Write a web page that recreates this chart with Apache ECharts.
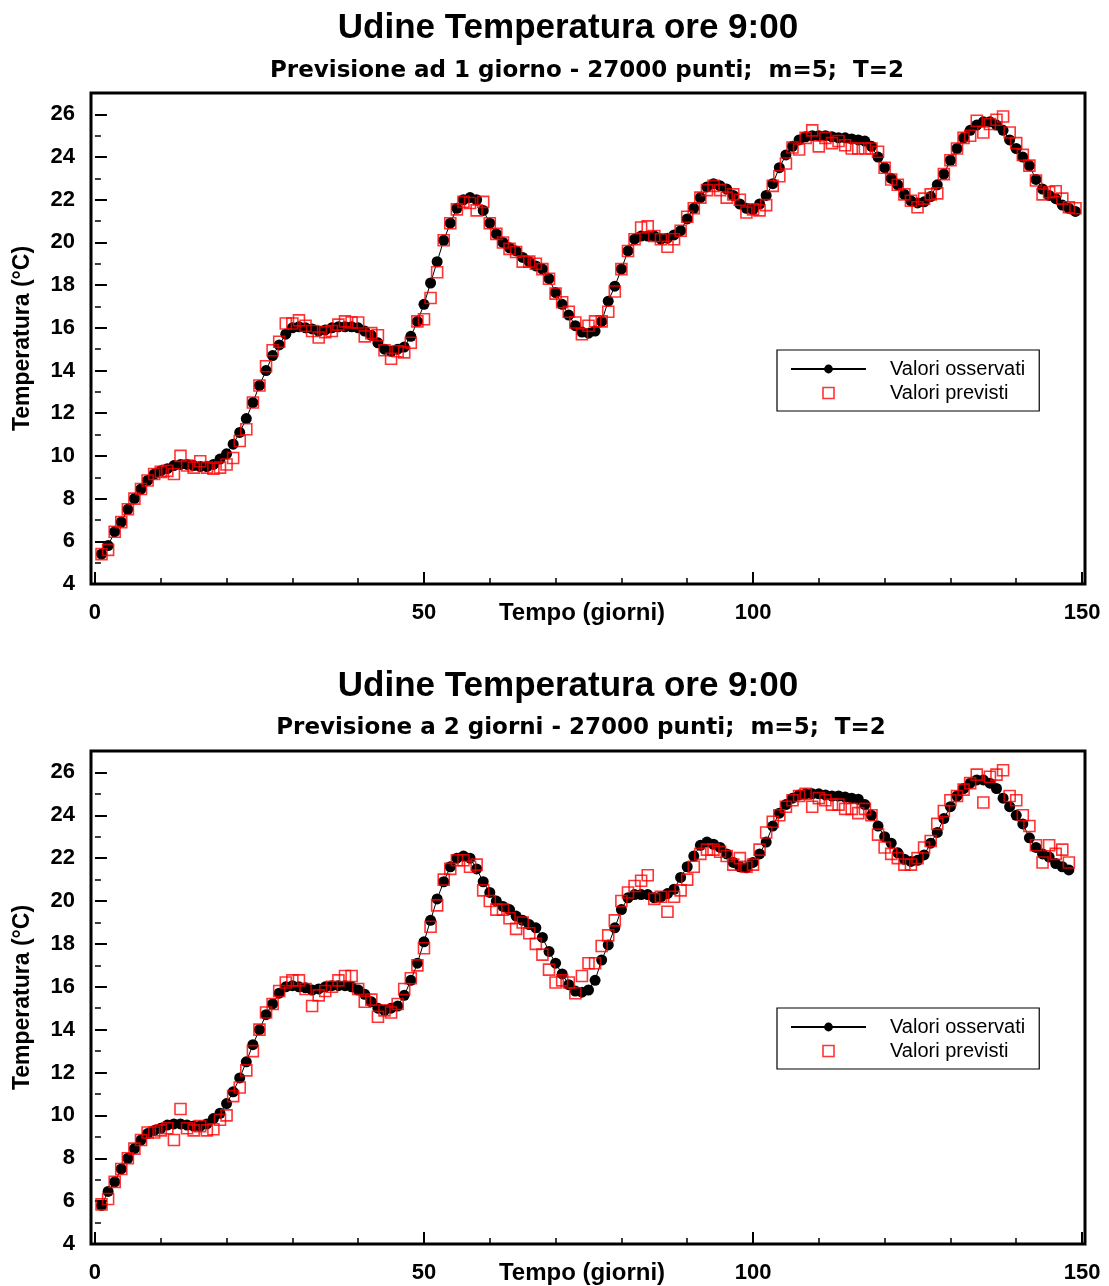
<!DOCTYPE html>
<html><head><meta charset="utf-8">
<script src="https://cdn.jsdelivr.net/npm/echarts@6/dist/echarts.min.js"></script>
<style>html,body{margin:0;padding:0;background:#fff}#c{width:1109px;height:1286px}</style>
</head><body><div id="c"></div>
<script>
const titleText = 'Udine Temperatura ore 9:00';
const subtitle1 = 'Previsione ad 1 giorno - 27000 punti;  m=5;  T=2';
const subtitle2 = 'Previsione a 2 giorni - 27000 punti;  m=5;  T=2';
const xName = 'Tempo (giorni)';
const yName = 'Temperatura (°C)';
const nameObs = 'Valori osservati';
const namePred = 'Valori previsti';
const xTickLabels = [0, 50, 100, 150];
const xMinorTicks = [10, 20, 30, 40, 60, 70, 80, 90, 110, 120, 130, 140];
const yTickLabels = [4, 6, 8, 10, 12, 14, 16, 18, 20, 22, 24, 26];
const yMinorTicks = [5, 7, 9, 11, 13, 15, 17, 19, 21, 23, 25];

// Chart 1: forecast 1 day ahead (days 1..149)
const obs1 = [
 5.4,5.8,6.45,6.9,7.5,8.0,8.45,8.85,9.15,9.3,
 9.4,9.55,9.6,9.6,9.55,9.5,9.5,9.6,9.85,10.1,
 10.55,11.1,11.75,12.5,13.3,14.0,14.7,15.2,15.7,16.0,
 16.05,16.0,15.95,15.85,15.9,16.0,16.05,16.05,16.05,16.0,
 15.85,15.65,15.3,15.0,14.9,15.0,15.1,15.6,16.3,17.1,
 18.1,19.1,20.1,20.9,21.6,22.0,22.1,22.0,21.5,20.9,
 20.4,20.0,19.75,19.6,19.3,19.1,18.9,18.75,18.3,17.65,
 17.1,16.6,16.1,15.8,15.75,15.85,16.3,17.25,17.95,18.75,
 19.6,20.15,20.3,20.3,20.3,20.15,20.2,20.35,20.55,21.1,
 21.6,22.1,22.6,22.75,22.65,22.5,22.2,21.8,21.6,21.55,
 21.8,22.2,22.75,23.5,24.1,24.5,24.8,24.95,25.0,25.0,
 25.0,24.95,24.9,24.9,24.85,24.8,24.75,24.5,24.0,23.5,
 23.0,22.7,22.25,21.95,21.85,21.9,22.15,22.7,23.2,23.85,
 24.4,24.9,25.25,25.5,25.65,25.65,25.5,25.25,24.8,24.4,
 24.0,23.6,22.95,22.5,22.2,22.05,21.75,21.6,21.45
];
const pred1 = [
 5.4,5.6,6.45,6.9,7.5,8.0,8.45,8.85,9.15,9.25,
 9.3,9.15,10.0,9.55,9.45,9.75,9.45,9.4,9.45,9.6,
 9.9,10.7,11.25,12.5,13.3,14.2,14.95,15.35,16.2,16.2,
 16.35,16.1,15.85,15.55,15.8,15.85,16.15,16.3,16.25,16.25,
 15.6,15.75,15.65,14.95,14.55,14.9,14.85,15.3,16.3,16.4,
 17.4,18.6,20.1,20.9,21.55,21.9,21.85,21.5,21.9,20.9,
 20.4,20.0,19.7,19.55,19.1,19.1,19.0,18.75,18.3,17.6,
 17.2,16.75,16.25,15.7,16.1,16.3,16.3,16.75,17.7,18.75,
 19.6,20.15,20.7,20.75,20.3,20.15,19.8,20.15,20.55,21.2,
 21.6,22.1,22.45,22.65,22.45,22.1,22.25,22.0,21.4,21.55,
 21.5,21.75,22.65,23.1,23.7,24.45,24.35,24.9,25.25,24.5,
 24.9,24.65,24.75,24.55,24.4,24.4,24.4,24.4,24.25,23.5,
 22.95,22.7,22.25,21.95,21.65,22.05,22.25,22.3,23.2,23.85,
 24.4,24.9,25.0,25.7,25.15,25.55,25.75,25.9,25.15,24.65,
 24.1,23.6,22.9,22.25,22.35,22.4,22.05,21.65,21.6
];
// Chart 2: forecast 2 days ahead (days 1..148)
const obs2 = [
 5.8,6.45,6.9,7.5,8.0,8.45,8.85,9.15,9.3,9.4,
 9.55,9.6,9.6,9.55,9.5,9.5,9.6,9.85,10.1,10.55,
 11.1,11.75,12.5,13.3,14.0,14.7,15.2,15.7,16.0,16.05,
 16.0,15.95,15.85,15.9,16.0,16.05,16.05,16.05,16.0,15.85,
 15.65,15.3,15.0,14.9,15.0,15.1,15.6,16.3,17.1,18.1,
 19.1,20.1,20.9,21.6,22.0,22.1,22.0,21.5,20.9,20.4,
 20.0,19.75,19.6,19.3,19.1,18.9,18.75,18.3,17.65,17.1,
 16.6,16.1,15.8,15.75,15.85,16.3,17.25,17.95,18.75,19.6,
 20.15,20.3,20.3,20.3,20.15,20.2,20.35,20.55,21.1,21.6,
 22.1,22.6,22.75,22.65,22.5,22.2,21.8,21.6,21.55,21.8,
 22.2,22.75,23.5,24.1,24.5,24.8,24.95,25.0,25.0,25.0,
 24.95,24.9,24.9,24.85,24.8,24.75,24.5,24.0,23.5,23.0,
 22.7,22.25,21.95,21.85,21.9,22.15,22.7,23.2,23.85,24.4,
 24.9,25.25,25.5,25.65,25.65,25.5,25.25,24.8,24.4,24.0,
 23.6,22.95,22.5,22.2,22.05,21.75,21.6,21.45
];
const pred2 = [
 5.85,6.1,6.9,7.5,8.0,8.45,8.85,9.2,9.2,9.3,
 9.4,8.85,10.3,9.4,9.3,9.5,9.3,9.35,9.8,10.0,
 10.9,11.3,12.1,13.0,14.0,14.8,15.2,15.8,16.2,16.3,
 16.3,15.9,15.1,15.6,15.8,16.0,16.3,16.5,16.5,15.9,
 15.3,15.4,14.6,14.9,14.8,15.2,15.9,16.4,17.0,17.8,
 18.8,19.8,21.0,21.5,21.9,21.9,21.6,21.7,20.5,20.0,
 19.6,19.6,19.2,18.7,19.0,18.5,18.0,17.5,16.8,16.2,
 16.3,16.2,15.7,16.5,17.1,17.1,17.9,18.4,19.1,20.0,
 20.4,20.7,20.95,21.2,20.1,20.2,19.5,20.2,20.5,21.0,
 21.6,22.2,22.4,22.4,22.3,22.1,21.7,22.0,21.6,21.7,
 22.4,23.2,23.7,24.0,24.4,24.7,24.9,25.0,24.4,24.8,
 24.7,24.5,24.5,24.3,24.3,24.1,24.3,24.0,23.1,22.5,
 22.2,22.0,21.7,21.7,22.0,22.5,22.8,23.6,24.2,24.7,
 24.9,25.2,25.5,25.9,24.6,25.8,25.9,26.1,24.9,24.7,
 24.0,23.5,22.6,21.8,22.6,22.2,22.4,21.8
];

const FONT = '"Liberation Sans", Arial, Helvetica, sans-serif';
const X_MIN = -0.6, X_MAX = 150.45, Y_MIN = 4, Y_MAX = 27;

function toPairs(arr) { return arr.map((v, i) => [i + 1, v]); }

function makeXAxes(g) {
  return [
    { type: 'value', gridIndex: g, min: X_MIN, max: X_MAX, position: 'bottom',
      axisLine: { show: false }, splitLine: { show: false },
      axisTick: { show: true, inside: true, length: 12, customValues: xTickLabels, lineStyle: { color: '#000', width: 2 } },
      axisLabel: { show: true, customValues: xTickLabels, margin: 18, color: '#000', fontSize: 22, fontWeight: 'bold', fontFamily: FONT },
      name: xName, nameLocation: 'middle', nameGap: 17, nameMoveOverlap: false,
      nameTextStyle: { color: '#000', fontSize: 24, fontWeight: 'bold', fontFamily: FONT, verticalAlign: 'top', padding: [0, 12, 0, 0] } },
    { type: 'value', gridIndex: g, min: X_MIN, max: X_MAX, position: 'bottom',
      axisLine: { show: false }, splitLine: { show: false }, axisLabel: { show: false },
      axisTick: { show: true, inside: true, length: 6, customValues: xMinorTicks, lineStyle: { color: '#000', width: 1.5 } } }
  ];
}
function makeYAxes(g) {
  return [
    { type: 'value', gridIndex: g, min: Y_MIN, max: Y_MAX, position: 'left',
      axisLine: { show: false }, splitLine: { show: false },
      axisTick: { show: true, inside: true, length: 12, customValues: yTickLabels, lineStyle: { color: '#000', width: 2 } },
      axisLabel: { show: true, customValues: yTickLabels, margin: 16, color: '#000', fontSize: 22, fontWeight: 'bold', fontFamily: FONT, padding: [5, 0, 0, 0] },
      name: yName, nameLocation: 'middle', nameGap: 57, nameRotate: 90, nameMoveOverlap: false,
      nameTextStyle: { color: '#000', fontSize: 23, fontWeight: 'bold', fontFamily: FONT } },
    { type: 'value', gridIndex: g, min: Y_MIN, max: Y_MAX, position: 'left',
      axisLine: { show: false }, splitLine: { show: false }, axisLabel: { show: false },
      axisTick: { show: true, inside: true, length: 6, customValues: yMinorTicks, lineStyle: { color: '#000', width: 1.5 } } }
  ];
}
function obsSeries(data, xi, yi) {
  return { name: nameObs, type: 'line', xAxisIndex: xi, yAxisIndex: yi, data: toPairs(data),
    symbol: 'circle', symbolSize: 11, showSymbol: true, showAllSymbol: true, animation: false,
    lineStyle: { color: '#000', width: 1 }, itemStyle: { color: '#000' }, z: 2 };
}
function predSeries(data, xi, yi) {
  return { name: namePred, type: 'scatter', xAxisIndex: xi, yAxisIndex: yi, data: toPairs(data),
    symbol: 'rect', symbolSize: 11, animation: false,
    itemStyle: { color: 'rgba(255,255,255,0)', borderColor: '#ff0000', borderWidth: 1.6 }, z: 3 };
}
function makeLegend(top) {
  return { show: true, orient: 'vertical', left: 777, top: top, itemWidth: 75, itemHeight: 11, itemGap: 4,
    padding: [9, 14, 8, 13], borderColor: '#000', borderWidth: 1.2, backgroundColor: '#fff',
    symbolKeepAspect: true,
    textStyle: { color: '#000', fontSize: 20, fontFamily: FONT, padding: [0, 0, 0, 19] },
    data: [
      { name: nameObs },
      { name: namePred, icon: 'path://M0,0L10,0L10,10L0,10Z',
        itemStyle: { color: 'rgba(255,255,255,0)', borderColor: '#ff0000', borderWidth: 1.6 } }
    ], selectedMode: false };
}
function makeTitle(text, x, top, size, family) {
  return { text: text, left: x, top: top, textAlign: 'center', padding: 0,
    textStyle: { color: '#000', fontSize: size, fontWeight: 'bold', fontFamily: family } };
}

const chart = echarts.init(document.getElementById('c'), null, { renderer: 'canvas' });
chart.setOption({
  backgroundColor: '#fff',
  animation: false,
  title: [
    makeTitle(titleText, 568, 11, 35, FONT),
    makeTitle(subtitle1, 587, 60, 23, '"DejaVu Sans", sans-serif'),
    makeTitle(titleText, 568, 669, 35, FONT),
    makeTitle(subtitle2, 581, 717, 23, '"DejaVu Sans", sans-serif')
  ],
  grid: [
    { left: 91, top: 93, width: 994, height: 491, show: true, borderColor: '#000', borderWidth: 3, backgroundColor: 'transparent' },
    { left: 91, top: 751, width: 994, height: 493, show: true, borderColor: '#000', borderWidth: 3, backgroundColor: 'transparent' }
  ],
  legend: [makeLegend(350), makeLegend(1008)],
  xAxis: makeXAxes(0).concat(makeXAxes(1)),
  yAxis: makeYAxes(0).concat(makeYAxes(1)),
  series: [
    obsSeries(obs1, 0, 0), predSeries(pred1, 0, 0),
    obsSeries(obs2, 2, 2), predSeries(pred2, 2, 2)
  ]
});
</script></body></html>
